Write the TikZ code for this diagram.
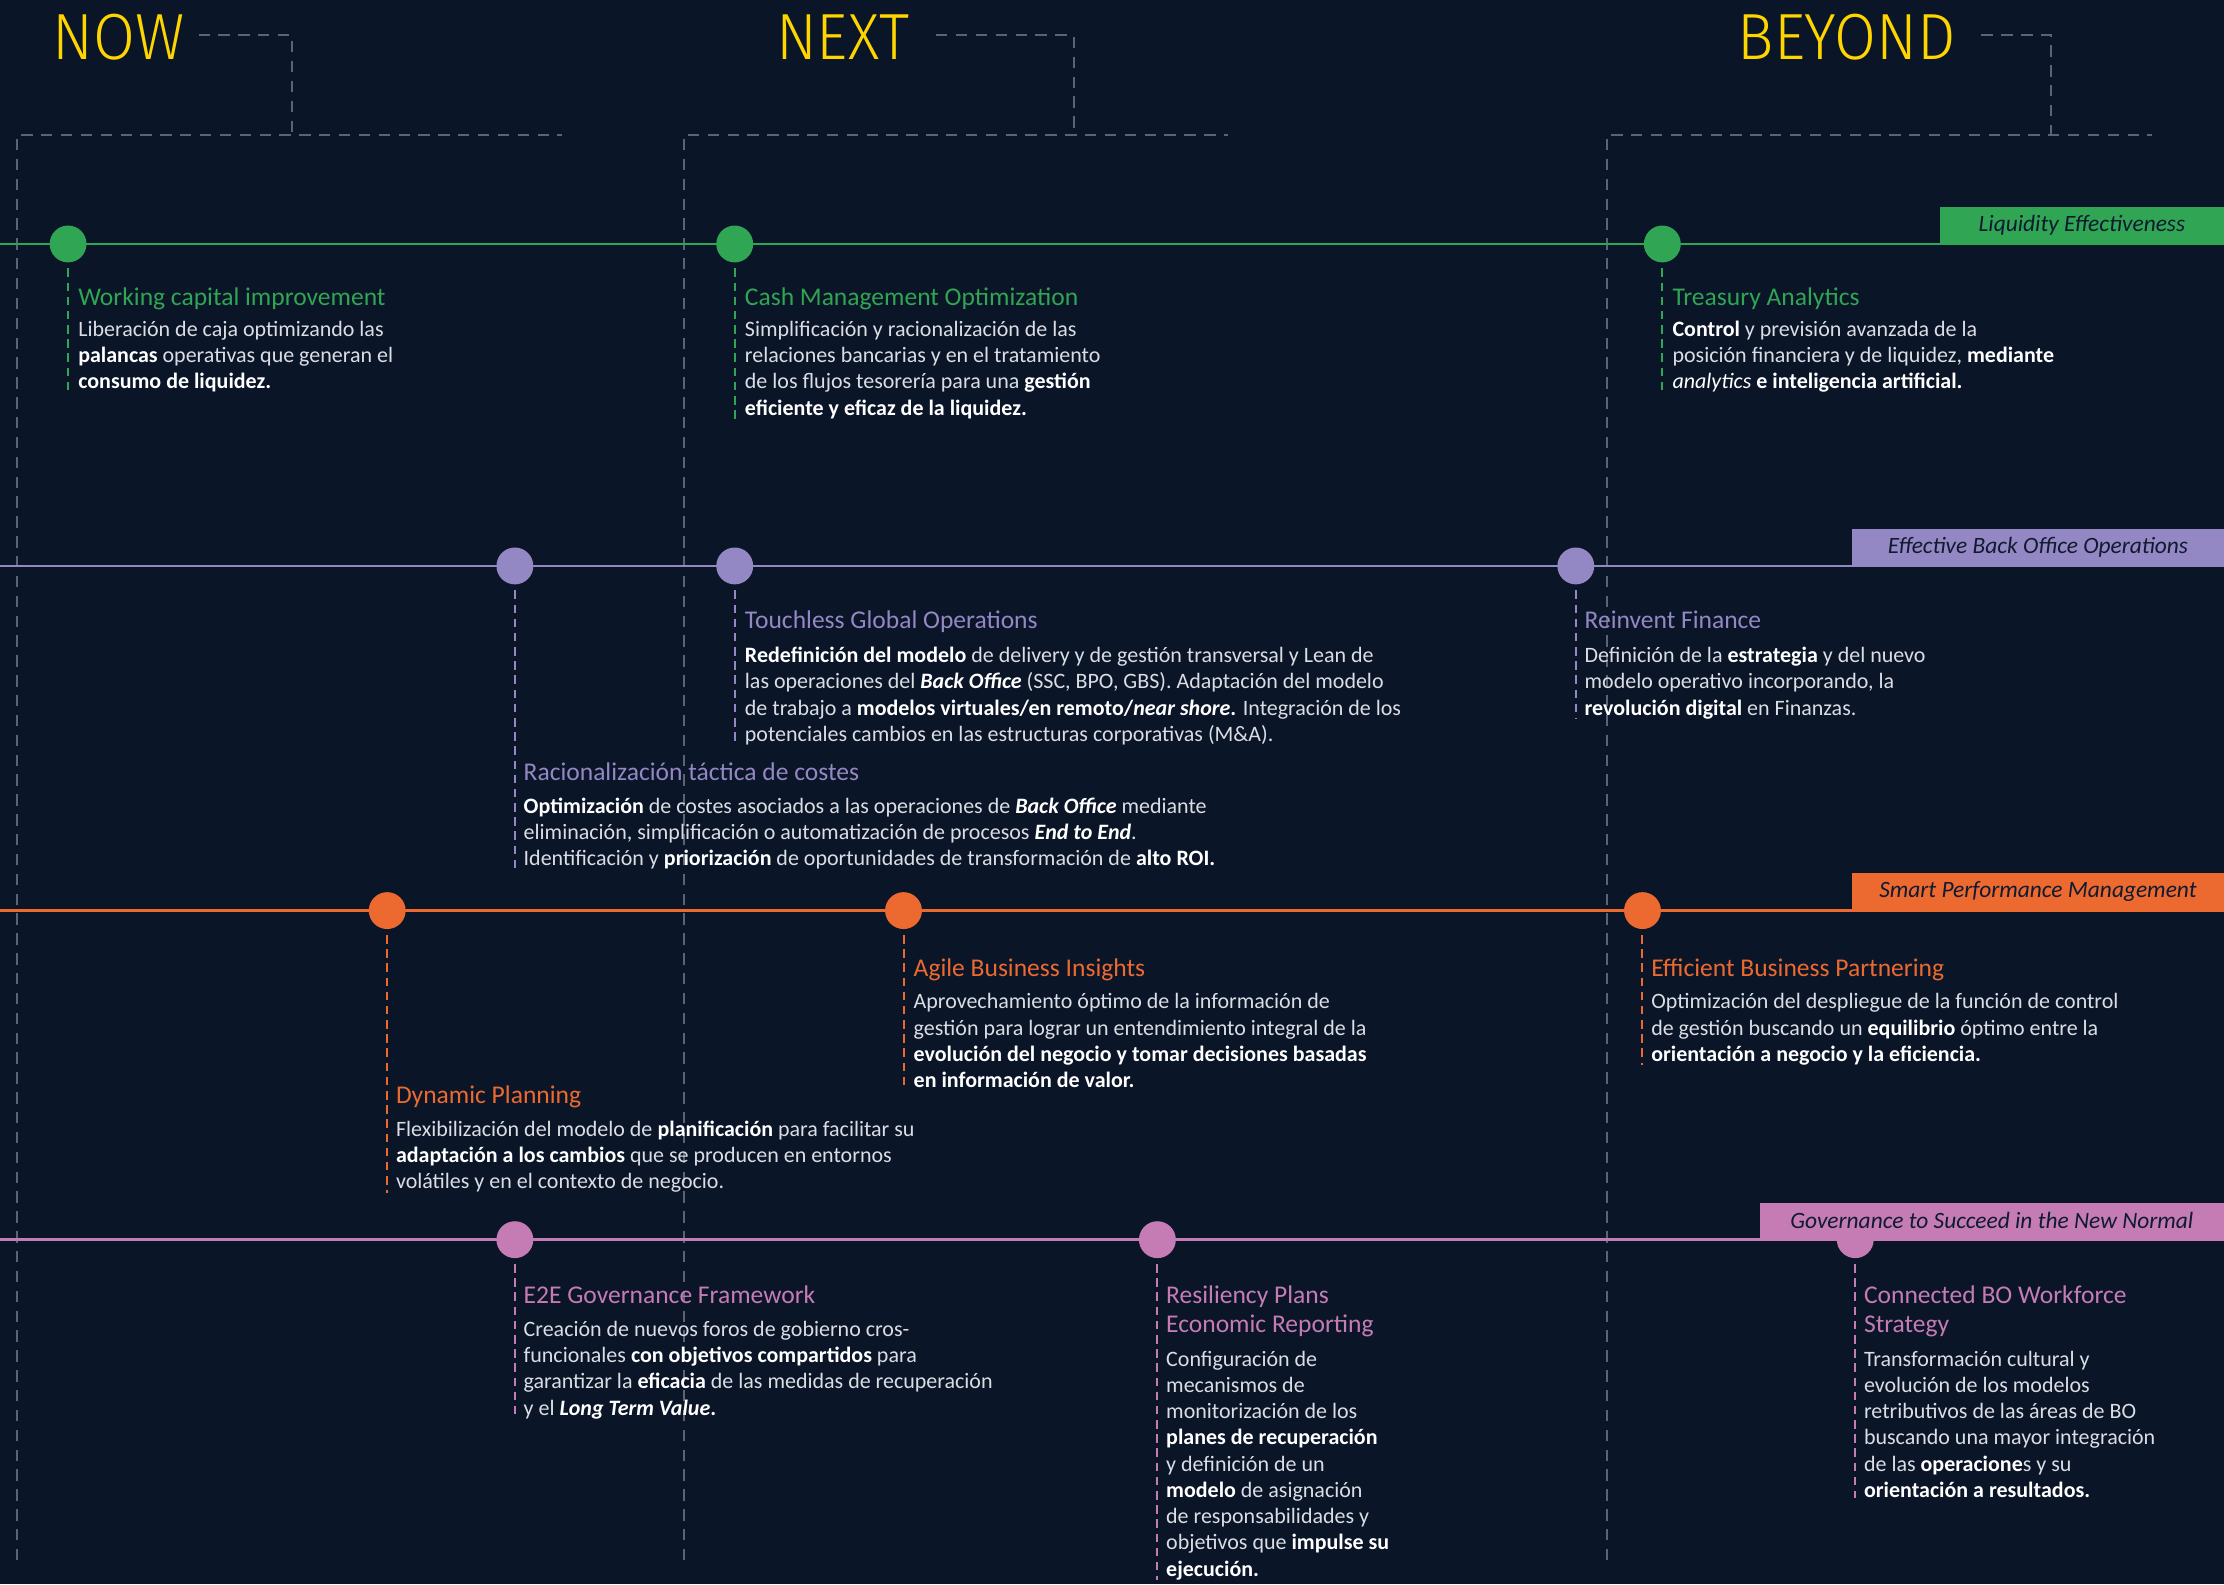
\documentclass[tikz,border=0pt]{standalone}
\usepackage{fontspec}
\setmainfont{Carlito}
\newfontfamily\headfont{Fira Sans Light}[FakeStretch=0.93]
\usepackage{tikz}
\usetikzlibrary{positioning}
\definecolor{bgnavy}{HTML}{0B1528}
\definecolor{eyyellow}{HTML}{FFD500}
\definecolor{guidegray}{HTML}{5C6474}
\definecolor{liqgreen}{HTML}{30A553}
\definecolor{bopurple}{HTML}{9488C4}
\definecolor{perforange}{HTML}{EC6A2F}
\definecolor{govpink}{HTML}{C57CB5}
\definecolor{bodygray}{HTML}{DADDE4}
\definecolor{labelink}{HTML}{101A30}
\newcommand{\bw}[1]{{\bfseries\color{white}#1}}
\newcommand{\fl}{\rule{0pt}{14pt}}
\newcommand{\ft}{\rule{0pt}{16pt}}
\tikzstyle{header}=[anchor=base west,inner sep=0pt,text=eyyellow,font=\headfont\fontsize{46}{46}\selectfont]
\tikzstyle{guide}=[draw=guidegray,line width=1.4pt,dash pattern=on 8pt off 6pt]
\tikzstyle{band}=[line width=2pt]
\tikzstyle{dot}=[circle,minimum size=26pt,inner sep=0pt]
\tikzstyle{tag}=[anchor=south east,minimum height=26pt,inner sep=0pt,text=labelink,font=\itshape\fontsize{16.5}{16.5}\selectfont]
\tikzstyle{itemtitle}=[anchor=north west,inner sep=0pt,align=left,font=\fontsize{18}{20}\selectfont]
\tikzstyle{itembody}=[anchor=north west,inner sep=0pt,align=left,text=bodygray,font=\fontsize{15.5}{18.5}\selectfont]
\tikzstyle{stem}=[line width=1.4pt,dash pattern=on 6pt off 4pt,shorten <=4pt]

\begin{document}
\begin{tikzpicture}[x=1pt,y=-1pt]
  \useasboundingbox[fill=bgnavy] (0,0) rectangle (1568,1117);
  % headers
  \node[header] (now)    at (37,42)   {NOW};
  \node[header] (next)   at (547,42)  {NEXT};
  \node[header] (beyond) at (1225,42) {BEYOND};
  \draw[guide] (140,25) -| (206,95);
  \draw[guide] (12,1100) |- (396,95);
  \draw[guide] (660,25) -| (757,95);
  \draw[guide] (482,1100) |- (866,95);
  \draw[guide] (1397,25) -| (1446,95);
  \draw[guide] (1133,1100) |- (1517,95);
  % bands
  \draw[band,liqgreen]   (0,172) -- (1568,172);
  \draw[band,bopurple]   (0,399) -- (1568,399);
  \draw[band,perforange] (0,642) -- (1568,642);
  \draw[band,govpink]    (0,874) -- (1568,874);
  % milestones
  \node[dot,fill=liqgreen] (wci) at (48,172)   {};
  \node[dot,fill=liqgreen] (cmo) at (518,172)  {};
  \node[dot,fill=liqgreen] (tra) at (1172,172) {};
  \node[dot,fill=bopurple] (rtc) at (363,399)  {};
  \node[dot,fill=bopurple] (tgo) at (518,399)  {};
  \node[dot,fill=bopurple] (rif) at (1111,399) {};
  \node[dot,fill=perforange] (dyp) at (273,642)  {};
  \node[dot,fill=perforange] (abi) at (637,642)  {};
  \node[dot,fill=perforange] (ebp) at (1158,642) {};
  \node[dot,fill=govpink] (egf) at (363,874)  {};
  \node[dot,fill=govpink] (rpl) at (816,874)  {};
  \node[dot,fill=govpink] (cbo) at (1308,874) {};
  % tags
  \node[tag,fill=liqgreen,minimum width=200pt]   (liqtag)  at (1568,172) {Liquidity Effectiveness};
  \node[tag,fill=bopurple,minimum width=262pt]   (botag)   at (1568,399) {Effective Back Office Operations};
  \node[tag,fill=perforange,minimum width=262pt] (perftag) at (1568,642) {Smart Performance Management};
  \node[tag,fill=govpink,minimum width=327pt]    (govtag)  at (1568,874) {Governance to Succeed in the New Normal};
  % liquidity
  \node[itemtitle,text=liqgreen] (wcititle) at (55,199) {\ft Working capital improvement};
  \node[itembody] (wcibody) at (55,223) {\fl Liberación de caja optimizando las\\\bw{palancas} operativas que generan el\\\bw{consumo de liquidez.}};
  \node[itemtitle,text=liqgreen] (cmotitle) at (525,199) {\ft Cash Management Optimization};
  \node[itembody] (cmobody) at (525,223) {\fl Simplificación y racionalización de las\\relaciones bancarias y en el tratamiento\\de los flujos tesorería para una \bw{gestión}\\\bw{eficiente y eficaz de la liquidez.}};
  \node[itemtitle,text=liqgreen] (tratitle) at (1179,199) {\ft Treasury Analytics};
  \node[itembody] (trabody) at (1179,223) {\fl\bw{Control} y previsión avanzada de la\\posición financiera y de liquidez, \bw{mediante}\\{\color{white}\itshape analytics} \bw{e inteligencia artificial.}};
  % back office
  \node[itemtitle,text=bopurple] (tgotitle) at (525,427) {\ft Touchless Global Operations};
  \node[itembody] (tgobody) at (525,453) {\fl\bw{Redefinición del modelo} de delivery y de gestión transversal y Lean de\\las operaciones del \bw{\itshape Back Office} (SSC, BPO, GBS). Adaptación del modelo\\de trabajo a \bw{modelos virtuales/en remoto/\textit{near shore}.} Integración de los\\potenciales cambios en las estructuras corporativas (M\&A).};
  \node[itemtitle,text=bopurple] (riftitle) at (1117,427) {\ft Reinvent Finance};
  \node[itembody] (rifbody) at (1117,453) {\fl Definición de la \bw{estrategia} y del nuevo\\modelo operativo incorporando, la\\\bw{revolución digital} en Finanzas.};
  \node[itemtitle,text=bopurple] (rtctitle) at (369,534) {\ft Racionalización táctica de costes};
  \node[itembody] (rtcbody) at (369,559) {\fl\bw{Optimización} de costes asociados a las operaciones de \bw{\itshape Back Office} mediante\\eliminación, simplificación o automatización de procesos \bw{\itshape End to End}.\\Identificación y \bw{priorización} de oportunidades de transformación de \bw{alto ROI.}};
  % performance
  \node[itemtitle,text=perforange] (abititle) at (644,672) {\ft Agile Business Insights};
  \node[itembody] (abibody) at (644,697) {\fl Aprovechamiento óptimo de la información de\\gestión para lograr un entendimiento integral de la\\\bw{evolución del negocio y tomar decisiones basadas}\\\bw{en información de valor.}};
  \node[itemtitle,text=perforange] (ebptitle) at (1164,672) {\ft Efficient Business Partnering};
  \node[itembody] (ebpbody) at (1164,697) {\fl Optimización del despliegue de la función de control\\de gestión buscando un \bw{equilibrio} óptimo entre la\\\bw{orientación a negocio y la eficiencia.}};
  \node[itemtitle,text=perforange] (dyptitle) at (279,762) {\ft Dynamic Planning};
  \node[itembody] (dypbody) at (279,787) {\fl Flexibilización del modelo de \bw{planificación} para facilitar su\\\bw{adaptación a los cambios} que se producen en entornos\\volátiles y en el contexto de negocio.};
  % governance
  \node[itemtitle,text=govpink] (egftitle) at (369,903) {\ft E2E Governance Framework};
  \node[itembody] (egfbody) at (369,928) {\fl Creación de nuevos foros de gobierno cros-\\funcionales \bw{con objetivos compartidos} para\\garantizar la \bw{eficacia} de las medidas de recuperación\\y el \bw{\textit{Long Term Value}.}};
  \node[itemtitle,text=govpink] (rpltitle) at (822,903) {\ft Resiliency Plans\\Economic Reporting};
  \node[itembody] (rplbody) at (822,949) {\fl Configuración de\\mecanismos de\\monitorización de los\\\bw{planes de recuperación}\\y definición de un\\\bw{modelo} de asignación\\de responsabilidades y\\objetivos que \bw{impulse su}\\\bw{ejecución.}};
  \node[itemtitle,text=govpink] (cbotitle) at (1314,903) {\ft Connected BO Workforce\\Strategy};
  \node[itembody] (cbobody) at (1314,949) {\fl Transformación cultural y\\evolución de los modelos\\retributivos de las áreas de BO\\buscando una mayor integración\\de las \bw{operacione}s y su\\\bw{orientación a resultados.}};
  % stems
  \draw[stem,liqgreen] (wci.south) -- (wci.south |- wcibody.south);
  \draw[stem,liqgreen] (cmo.south) -- (cmo.south |- cmobody.south);
  \draw[stem,liqgreen] (tra.south) -- (tra.south |- trabody.south);
  \draw[stem,bopurple] (tgo.south) -- (tgo.south |- tgobody.south);
  \draw[stem,bopurple] (rif.south) -- (rif.south |- rifbody.south);
  \draw[stem,bopurple] (rtc.south) -- (rtc.south |- rtcbody.south);
  \draw[stem,perforange] (abi.south) -- (abi.south |- abibody.south);
  \draw[stem,perforange] (ebp.south) -- (ebp.south |- ebpbody.south);
  \draw[stem,perforange] (dyp.south) -- (dyp.south |- dypbody.south);
  \draw[stem,govpink] (egf.south) -- (egf.south |- egfbody.south);
  \draw[stem,govpink] (rpl.south) -- (rpl.south |- rplbody.south);
  \draw[stem,govpink] (cbo.south) -- (cbo.south |- cbobody.south);
\end{tikzpicture}
\end{document}
